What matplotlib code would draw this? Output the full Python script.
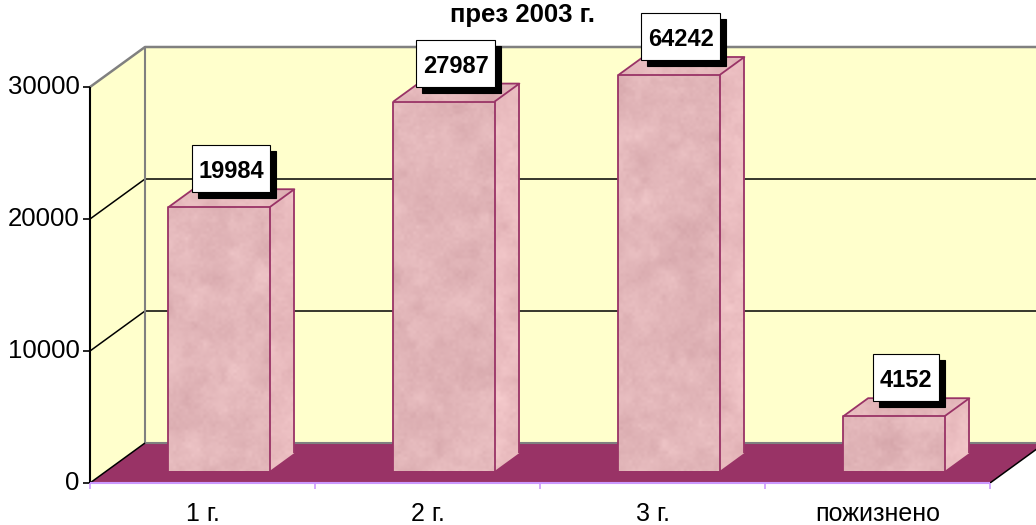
import matplotlib.pyplot as plt
import numpy as np
from matplotlib.patches import Polygon, Rectangle

categories = ['1 г.', '2 г.', '3 г.', 'пожизнено']
values = [19984, 27987, 64242, 4152]
y_ticks = [0, 10000, 20000, 30000]
title = 'през 2003 г.'

Y_MAX = 30000
DX = 0.2444      # horizontal shift of the full floor depth, in category slots
DY = 3030        # vertical shift of the full floor depth, in value units
BAR_W = 0.45
D0, D1 = 0.3, 0.75

WALL = '#FFFFCC'
FLOOR = '#993366'
EDGE = '#993366'
GREY = '#808080'
AXIS = '#CC99FF'
PINK = np.array([0.90, 0.725, 0.737])

plt.rcParams['font.family'] = ['Liberation Sans', 'DejaVu Sans']

fig = plt.figure(figsize=(10.36, 5.25), dpi=100)
ax = fig.add_axes([0, 0, 1, 1])
XLIM = (-0.4, 4.2044)
YLIM = (-3182, 36591)
ax.set_xlim(*XLIM)
ax.set_ylim(*YLIM)
ax.axis('off')

PX_X = 1036 / (XLIM[1] - XLIM[0])
PX_Y = 525 / (YLIM[1] - YLIM[0])
n = len(categories)
rng = np.random.default_rng(7)


def proj(x, v, d):
    return (x + d * DX, v + d * DY)


def noise_field(ny, nx, cell):
    gy, gx = ny // cell + 2, nx // cell + 2
    g = rng.normal(size=(gy, gx))
    ys = np.arange(ny) / cell
    xs = np.arange(nx) / cell
    iy, ix = ys.astype(int), xs.astype(int)
    fy, fx = ys - iy, xs - ix
    fy = fy * fy * (3 - 2 * fy)
    fx = fx * fx * (3 - 2 * fx)
    top = g[iy][:, ix] * (1 - fx) + g[iy][:, ix + 1] * fx
    bot = g[iy + 1][:, ix] * (1 - fx) + g[iy + 1][:, ix + 1] * fx
    return top * (1 - fy[:, None]) + bot * fy[:, None]


def marble_face(verts, shade, z):
    xs = [p[0] for p in verts]
    ys = [p[1] for p in verts]
    x0, x1, y0, y1 = min(xs), max(xs), min(ys), max(ys)
    nx = max(int((x1 - x0) * PX_X), 4)
    ny = max(int((y1 - y0) * PX_Y), 4)
    f = (0.5 * noise_field(ny, nx, 24) + 0.35 * noise_field(ny, nx, 9)
         + 0.25 * noise_field(ny, nx, 3))
    img = PINK * shade + 0.026 * f[..., None] * np.array([1.0, 1.25, 1.15])
    img = np.clip(img, 0, 1)
    clip = Polygon(verts, closed=True, transform=ax.transData)
    im = ax.imshow(img, extent=(x0, x1, y0, y1), origin='lower', aspect='auto',
                   interpolation='bilinear', zorder=z)
    im.set_clip_path(clip)


def line(pts, **kw):
    xs, ys = zip(*pts)
    ax.plot(xs, ys, solid_capstyle='butt', **kw)


# walls and floor
side = [proj(0, 0, 0), proj(0, 0, 1), proj(0, Y_MAX, 1), proj(0, Y_MAX, 0)]
back = [proj(0, 0, 1), proj(n, 0, 1), proj(n, Y_MAX, 1), proj(0, Y_MAX, 1)]
floor = [proj(0, 0, 0), proj(n, 0, 0), proj(n, 0, 1), proj(0, 0, 1)]
ax.add_patch(Polygon(side, closed=True, facecolor=WALL, edgecolor='none', zorder=1))
ax.add_patch(Polygon(back, closed=True, facecolor=WALL, edgecolor='none', zorder=1))
ax.add_patch(Polygon(floor, closed=True, facecolor=FLOOR, edgecolor='none', zorder=2))

for v in y_ticks[1:-1]:
    line([proj(0, v, 0), proj(0, v, 1), proj(n, v, 1)], color='black', lw=1.1, zorder=1.5)
line([proj(0, Y_MAX, 0), proj(0, Y_MAX, 1), proj(n, Y_MAX, 1)], color=GREY, lw=1.8, zorder=1.5)
line([proj(0, 0, 1), proj(0, Y_MAX, 1)], color=GREY, lw=1.5, zorder=1.5)
line([proj(0, 0, 1), proj(n, 0, 1)], color=GREY, lw=1.5, zorder=2.1)
line([proj(0, 0, 0), proj(0, 0, 1)], color='black', lw=1.1, zorder=2.1)
line([proj(n, 0, 0), proj(n, 0, 1)], color='black', lw=1.1, zorder=2.1)

# value axis
line([proj(0, 0, 0), proj(0, Y_MAX, 0)], color='black', lw=1.5, zorder=5)
ax.plot(np.zeros(len(y_ticks)), y_ticks, ls='none', marker=0, ms=5, mew=1.2,
        color='black', zorder=5)
for v in y_ticks:
    ax.annotate(f'{v}', (0, v), xytext=(-7.5, 0), textcoords='offset points',
                ha='right', va='center', fontsize=18.5)

# category axis
line([(0, 0), (n, 0)], color=AXIS, lw=1.5, zorder=5)
ax.plot(np.arange(n + 1), np.zeros(n + 1), ls='none', marker=3, ms=4, mew=1.2,
        color=AXIS, zorder=5)
for i, cat in enumerate(categories):
    ax.annotate(cat, (i + 0.5, 0), xytext=(0, -27.5), textcoords='offset points',
                ha='center', va='baseline', fontsize=18)

# bars
tops = []
for i, v in enumerate(values):
    h = min(v, Y_MAX)
    xa, xb = i + 0.5 - BAR_W / 2, i + 0.5 + BAR_W / 2
    front = [proj(xa, 0, D0), proj(xb, 0, D0), proj(xb, h, D0), proj(xa, h, D0)]
    right = [proj(xb, 0, D0), proj(xb, 0, D1), proj(xb, h, D1), proj(xb, h, D0)]
    top = [proj(xa, h, D0), proj(xb, h, D0), proj(xb, h, D1), proj(xa, h, D1)]
    marble_face(right, 1.02, 3)
    marble_face(top, 1.0, 3)
    marble_face(front, 0.985, 3)
    kw = dict(color=EDGE, lw=1.3, zorder=4)
    line([front[0], front[3], front[2], front[1]], **kw)
    line([top[0], top[3], top[2], top[1]], **kw)
    line([right[2], right[1]], **kw)
    tops.append(proj(i + 0.5, h, (D0 + D1) / 2))

# value labels in white boxes with a drop shadow
fig.canvas.draw()
inv = ax.transData.inverted()
for (tx, ty), v in zip(tops, values):
    t = ax.annotate(f'{v}', (tx, ty), xytext=(0, 20 * 0.72), textcoords='offset points',
                    ha='center', va='baseline', fontsize=17, fontweight='bold', zorder=8)
    fig.canvas.draw()
    bb = t.get_window_extent()
    ax_px, ay_px = ax.transData.transform((tx, ty))
    base = ay_px + 20
    bx0, bx1 = bb.x0 - 7, bb.x1 + 6
    by0, by1 = base - 14, base + 33
    for off, fc, ec, z in [(6, 'black', 'black', 6), (0, 'white', 'black', 7)]:
        (dx0, dy0) = inv.transform((bx0 + off, by0 - off))
        (dx1, dy1) = inv.transform((bx1 + off, by1 - off))
        ax.add_patch(Rectangle((dx0, dy0), dx1 - dx0, dy1 - dy0, facecolor=fc,
                               edgecolor=ec, lw=0.8, zorder=z))

fig.text(523 / 1036, 1 - 22 / 525, title, ha='center', va='baseline',
         fontsize=18.5, fontweight='bold')

ax.set_xlim(*XLIM)
ax.set_ylim(*YLIM)
fig.savefig('out.png', dpi=100)
